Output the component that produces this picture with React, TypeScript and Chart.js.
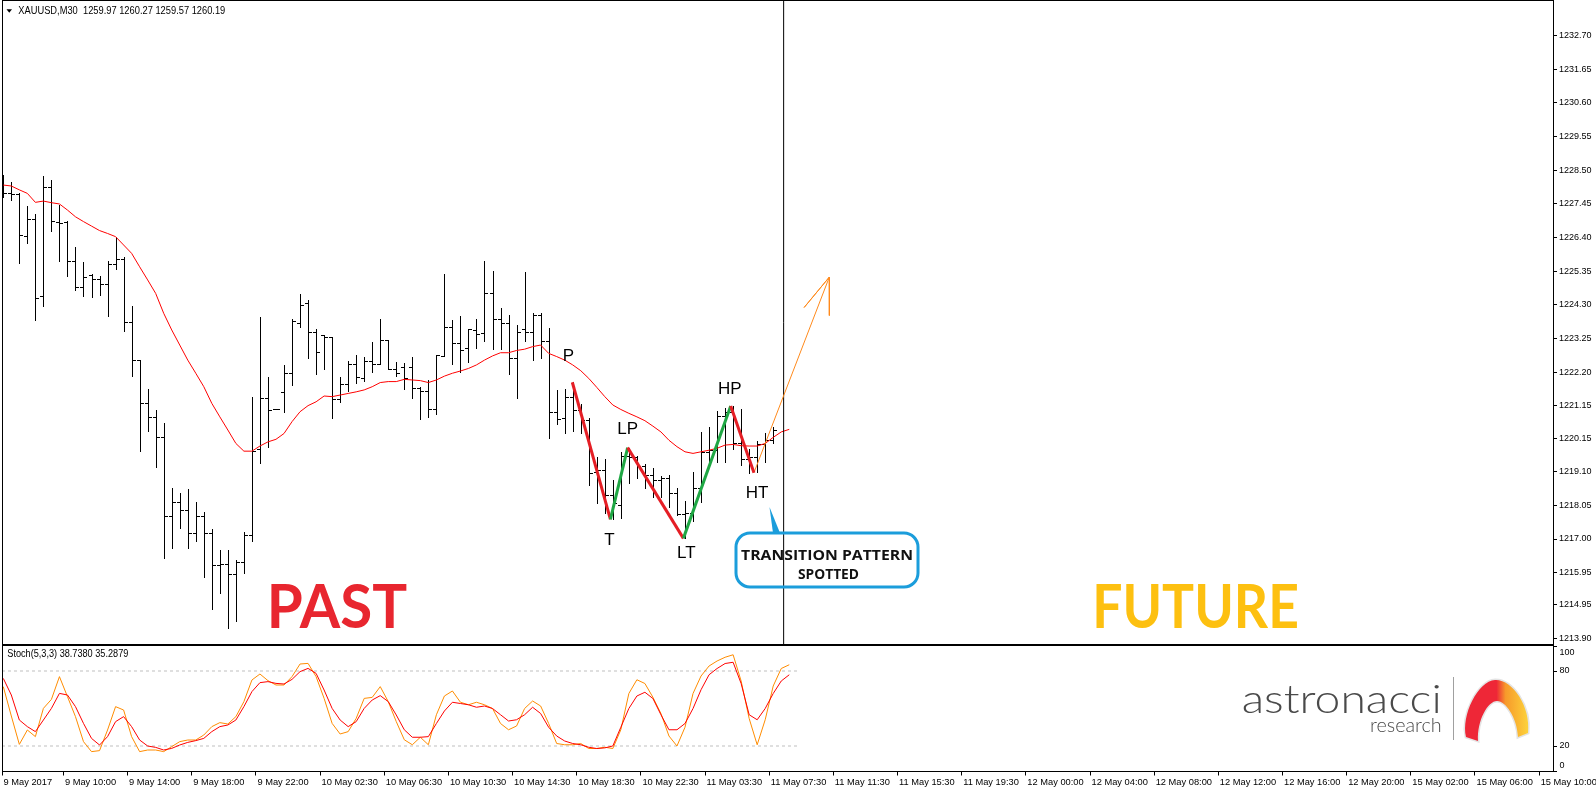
import { useEffect, useRef } from 'react';
import { Chart, registerables } from 'chart.js';

Chart.register(...registerables);

// ---------- DATA ----------
const timeLabels = ['9 May 2017', '9 May 10:00', '9 May 14:00', '9 May 18:00', '9 May 22:00', '10 May 02:30', '10 May 06:30', '10 May 10:30', '10 May 14:30', '10 May 18:30', '10 May 22:30', '11 May 03:30', '11 May 07:30', '11 May 11:30', '11 May 15:30', '11 May 19:30', '12 May 00:00', '12 May 04:00', '12 May 08:00', '12 May 12:00', '12 May 16:00', '12 May 20:00', '15 May 02:00', '15 May 06:00', '15 May 10:00'];

const priceTicks = [1232.70, 1231.65, 1230.60, 1229.55, 1228.50, 1227.45, 1226.40, 1225.35, 1224.30, 1223.25, 1222.20, 1221.15, 1220.15, 1219.10, 1218.05, 1217.00, 1215.95, 1214.95, 1213.90];
const stochTicks = [0, 20, 80, 100];
const stochLevels = [20, 80];

const opens = [1228.04, 1227.80, 1227.75, 1226.44, 1226.97, 1224.58, 1227.97, 1226.88, 1226.90, 1225.67, 1224.85, 1225.23, 1225.11, 1224.95, 1225.57, 1225.72, 1223.76, 1222.57, 1221.23, 1220.81, 1220.19, 1217.71, 1218.16, 1217.90, 1217.18, 1217.72, 1217.18, 1216.18, 1216.21, 1215.90, 1216.27, 1217.11, 1219.81, 1221.39, 1221.04, 1221.57, 1222.18, 1223.73, 1224.35, 1223.46, 1223.37, 1223.31, 1221.36, 1221.85, 1222.46, 1222.01, 1222.55, 1222.46, 1223.21, 1222.29, 1222.35, 1222.35, 1221.72, 1221.61, 1221.04, 1222.72, 1223.60, 1223.12, 1222.95, 1223.52, 1223.41, 1224.66, 1223.86, 1223.73, 1222.63, 1223.56, 1223.47, 1224.00, 1223.18, 1220.97, 1220.77, 1221.44, 1221.02, 1220.71, 1219.10, 1219.15, 1218.37, 1218.06, 1219.60, 1219.57, 1219.27, 1219.00, 1218.85, 1218.90, 1218.42, 1217.78, 1217.80, 1218.60, 1219.70, 1219.77, 1220.85, 1220.95, 1220.00, 1219.50, 1219.55, 1219.95, 1220.10];
const highs = [1228.35, 1228.14, 1227.78, 1227.39, 1227.14, 1228.32, 1228.20, 1227.42, 1226.91, 1226.10, 1225.63, 1225.26, 1225.20, 1225.68, 1226.41, 1225.79, 1224.27, 1222.57, 1221.67, 1221.02, 1220.61, 1218.58, 1218.42, 1218.55, 1218.14, 1217.85, 1217.30, 1216.65, 1216.65, 1216.34, 1217.21, 1221.42, 1223.91, 1222.04, 1221.04, 1222.42, 1223.86, 1224.64, 1224.45, 1223.54, 1223.37, 1223.31, 1222.06, 1222.55, 1222.74, 1222.69, 1223.16, 1223.86, 1223.21, 1222.51, 1222.48, 1222.69, 1221.75, 1221.96, 1222.74, 1225.27, 1223.83, 1223.95, 1223.54, 1223.86, 1225.67, 1225.36, 1224.19, 1223.99, 1223.67, 1225.32, 1224.04, 1224.04, 1223.57, 1221.64, 1221.69, 1221.89, 1221.20, 1220.76, 1219.56, 1219.48, 1218.84, 1219.72, 1219.85, 1219.60, 1219.35, 1219.20, 1218.98, 1219.00, 1218.60, 1218.20, 1219.10, 1220.35, 1220.50, 1221.00, 1221.10, 1221.15, 1221.05, 1219.80, 1220.05, 1220.30, 1220.50];
const lows = [1227.68, 1227.57, 1225.62, 1226.22, 1223.83, 1224.28, 1226.62, 1225.68, 1225.20, 1224.76, 1224.58, 1224.56, 1224.61, 1223.96, 1225.43, 1223.50, 1222.09, 1219.75, 1220.38, 1219.25, 1216.41, 1216.73, 1217.35, 1216.71, 1216.94, 1215.82, 1214.83, 1215.32, 1214.24, 1214.45, 1215.95, 1216.94, 1219.38, 1219.88, 1221.04, 1220.97, 1221.80, 1223.62, 1222.65, 1222.14, 1222.30, 1220.78, 1221.28, 1221.62, 1221.87, 1221.93, 1222.22, 1222.46, 1222.29, 1222.07, 1221.67, 1221.40, 1220.74, 1220.82, 1220.89, 1222.72, 1222.45, 1222.22, 1222.53, 1222.97, 1223.18, 1222.92, 1222.92, 1222.14, 1221.39, 1223.18, 1222.58, 1222.64, 1220.14, 1220.59, 1220.30, 1220.37, 1220.30, 1218.68, 1218.13, 1217.82, 1217.61, 1217.65, 1218.76, 1218.90, 1218.60, 1218.30, 1218.30, 1218.00, 1217.75, 1217.02, 1217.55, 1218.15, 1219.35, 1219.40, 1219.40, 1219.80, 1219.30, 1219.07, 1219.10, 1219.40, 1220.00];
const closes = [1227.80, 1227.75, 1226.47, 1226.97, 1224.51, 1227.97, 1226.91, 1226.87, 1225.67, 1224.85, 1225.16, 1225.11, 1224.95, 1225.57, 1225.72, 1223.76, 1222.57, 1221.23, 1220.81, 1220.19, 1217.71, 1218.16, 1217.90, 1217.18, 1217.72, 1217.18, 1216.18, 1216.21, 1215.90, 1216.27, 1217.11, 1219.75, 1221.39, 1221.02, 1221.04, 1222.18, 1223.80, 1224.30, 1223.46, 1222.82, 1223.31, 1221.36, 1221.85, 1222.46, 1222.04, 1222.55, 1222.46, 1223.21, 1222.29, 1222.18, 1222.03, 1221.72, 1221.61, 1221.04, 1222.74, 1223.60, 1223.12, 1222.89, 1223.54, 1223.39, 1224.66, 1223.86, 1223.73, 1222.63, 1223.45, 1223.47, 1224.00, 1223.18, 1220.97, 1220.74, 1221.44, 1221.02, 1220.71, 1219.05, 1219.15, 1218.37, 1218.11, 1219.60, 1219.57, 1219.27, 1219.00, 1218.85, 1218.90, 1218.42, 1217.78, 1217.80, 1218.60, 1219.70, 1219.77, 1220.85, 1220.95, 1220.00, 1219.50, 1219.55, 1219.95, 1220.10, 1220.40];

const maValues = [1228.04, 1228.01, 1227.89, 1227.78, 1227.50, 1227.54, 1227.49, 1227.45, 1227.26, 1227.05, 1226.90, 1226.76, 1226.62, 1226.53, 1226.43, 1226.17, 1225.91, 1225.49, 1225.08, 1224.66, 1224.04, 1223.52, 1223.05, 1222.58, 1222.17, 1221.75, 1221.23, 1220.81, 1220.40, 1219.98, 1219.74, 1219.74, 1219.90, 1220.03, 1220.11, 1220.29, 1220.66, 1220.97, 1221.16, 1221.28, 1221.46, 1221.44, 1221.49, 1221.54, 1221.59, 1221.65, 1221.75, 1221.88, 1221.91, 1221.91, 1221.98, 1221.96, 1221.94, 1221.88, 1221.96, 1222.08, 1222.17, 1222.24, 1222.32, 1222.43, 1222.58, 1222.71, 1222.81, 1222.81, 1222.88, 1222.92, 1223.00, 1223.05, 1222.79, 1222.69, 1222.58, 1222.43, 1222.25, 1222.01, 1221.73, 1221.44, 1221.18, 1221.04, 1220.92, 1220.81, 1220.69, 1220.52, 1220.34, 1220.08, 1219.88, 1219.72, 1219.67, 1219.72, 1219.77, 1219.83, 1219.93, 1219.95, 1219.91, 1219.90, 1219.90, 1219.98, 1220.17, 1220.34, 1220.42];

const stochK = [67.5, 44, 21.3, 32.8, 27.5, 50.1, 57.3, 75.5, 59.5, 43.5, 23.5, 15.5, 16.3, 32.8, 51.5, 48.8, 27.5, 15.5, 16.8, 16.8, 15.5, 19.5, 23.5, 24.8, 24.8, 28.8, 35.5, 38.7, 37.6, 43.5, 55.5, 72.8, 77.6, 72.3, 68.8, 68.8, 75.5, 85.6, 86.1, 75.5, 58.1, 38.1, 29.6, 31.5, 42.1, 58.1, 58.9, 67.5, 55.5, 39.5, 25, 21, 27, 21, 45, 60, 64, 55, 53, 55, 53, 50, 38, 33, 36, 50, 56, 52, 38, 22, 21, 21, 22, 18, 18, 19, 18, 33, 62, 73, 70, 59, 46, 28, 20, 35, 62, 76, 84, 88, 91, 93, 72, 42, 21, 41, 68, 82, 85];
const stochD = [74.1, 60.8, 40.8, 35.5, 31.5, 40.8, 50.1, 62.1, 60.8, 51.5, 38.1, 26.1, 20.8, 27.5, 39.5, 43.5, 35.5, 24.8, 20, 18.9, 16.8, 18.1, 20.8, 22.9, 24.3, 26.1, 31.5, 35.5, 36.8, 40.8, 51.5, 63.5, 70.7, 71.5, 70.1, 69.6, 73.3, 79.5, 82.1, 78.1, 64.8, 50.1, 40.8, 35.5, 39.5, 50.1, 56.8, 60.3, 55.5, 44.8, 33, 27, 27, 27.5, 38, 48, 55, 54, 53, 51, 52, 50, 45, 40, 41, 45, 51, 46, 35, 28, 24, 22, 21, 19, 18, 18.5, 20, 35, 50, 60, 63, 58, 45, 33, 33, 38, 50, 65, 77, 82, 86, 87, 70, 45, 41, 50, 62, 72, 77];

const zigzagNames = ['P', 'T', 'LP', 'LT', 'HP', 'HT'];
const zigzagIndex = [70.95, 75.7, 77.85, 84.8, 90.7, 93.6];
const zigzagPrice = [1221.89, 1217.61, 1219.85, 1217.02, 1221.15, 1219.07];

const arrowIndex = [93.6, 103.0, 99.85, 103.0, 103.0];
const arrowPrice = [1219.07, 1225.17, 1224.22, 1225.17, 1223.97];

const dividerIndex = 97.3;

// ---------- LAYOUT CONSTANTS ----------
const W = 1596;
const H = 793;
const X_MIN = -0.162;
const X_MAX = 193.23;
const Y_MIN = 1213.71;
const Y_MAX = 1233.78;
const S_MIN = -0.4;
const S_MAX = 101.2;

const FONT = '"Liberation Sans", Arial, sans-serif';

function fitText(ctx: CanvasRenderingContext2D, text: string, x: number, y: number, width: number, font: string, color: string, baseline: CanvasTextBaseline = 'alphabetic') {
  ctx.save();
  ctx.font = font;
  ctx.fillStyle = color;
  ctx.textAlign = 'left';
  ctx.textBaseline = baseline;
  const w = ctx.measureText(text).width || 1;
  ctx.translate(x, y);
  ctx.scale(width / w, 1);
  ctx.fillText(text, 0, 0);
  ctx.restore();
}

const labelOffsets = [[-4, -26], [-1, 21], [0, -18], [3, 15], [-1, -17], [3, 21]];

const overlayPlugin = {
  id: 'mt4overlay',
  beforeDatasetsDraw(chart: any) {
    const ctx: CanvasRenderingContext2D = chart.ctx;
    const xs = chart.scales.x;
    const ys = chart.scales.y;
    ctx.save();
    ctx.beginPath();
    ctx.rect(chart.chartArea.left, ys.top, chart.chartArea.right - chart.chartArea.left, ys.bottom - ys.top);
    ctx.clip();
    ctx.fillStyle = '#000';
    for (let i = 0; i < opens.length; i++) {
      const x = Math.round(xs.getPixelForValue(i));
      const yh = Math.round(ys.getPixelForValue(highs[i]));
      const yl = Math.round(ys.getPixelForValue(lows[i]));
      const yo = Math.round(ys.getPixelForValue(opens[i]));
      const yc = Math.round(ys.getPixelForValue(closes[i]));
      ctx.fillRect(x, yh, 1, Math.max(1, yl - yh + 1));
      ctx.fillRect(x - 3, yo, 3, 1);
      ctx.fillRect(x + 1, yc, 3, 1);
    }
    ctx.restore();
  },
  afterDatasetsDraw(chart: any) {
    const ctx: CanvasRenderingContext2D = chart.ctx;
    const xs = chart.scales.x;
    const ys = chart.scales.y;
    // zigzag labels
    for (let i = 0; i < zigzagNames.length; i++) {
      const px = xs.getPixelForValue(zigzagIndex[i]) + labelOffsets[i][0];
      const py = ys.getPixelForValue(zigzagPrice[i]) + labelOffsets[i][1];
      ctx.save();
      ctx.font = '17px ' + FONT;
      ctx.fillStyle = '#000';
      ctx.textAlign = 'center';
      ctx.textBaseline = 'middle';
      ctx.fillText(zigzagNames[i], px, py);
      ctx.restore();
    }
    // callout
    ctx.save();
    ctx.strokeStyle = '#1b9ddb';
    ctx.fillStyle = '#1b9ddb';
    ctx.lineWidth = 3;
    ctx.beginPath();
    (ctx as any).roundRect(736, 533, 182, 54, 14);
    ctx.stroke();
    ctx.beginPath();
    ctx.moveTo(769.5, 507);
    ctx.lineTo(773, 533);
    ctx.lineTo(780, 533);
    ctx.closePath();
    ctx.fill();
    ctx.restore();
    fitText(ctx, 'TRANSITION PATTERN', 741, 556, 172, 'bold 14px "Open Sans", sans-serif', '#111', 'middle');
    fitText(ctx, 'SPOTTED', 798, 575, 61, 'bold 14px "Open Sans", sans-serif', '#111', 'middle');
    // PAST / FUTURE
    fitText(ctx, 'PAST', 266.7, 628, 140.5, 'bold 62px Lato, sans-serif', '#e8262f');
    fitText(ctx, 'FUTURE', 1092.2, 628, 206.7, 'bold 62px Lato, sans-serif', '#fdc010');
  },
  afterDraw(chart: any) {
    const ctx: CanvasRenderingContext2D = chart.ctx;
    const ys = chart.scales.y;
    const ys2 = chart.scales.y2;
    const ca = chart.chartArea;
    ctx.save();
    ctx.strokeStyle = '#000';
    ctx.lineWidth = 1;
    const left = Math.round(ca.left) + 0.5;
    const right = Math.round(ca.right) + 0.5;
    const mainBottom = Math.round(ys.bottom) - 1 + 0.5;
    ctx.strokeRect(left, 0.5, right - left, mainBottom - 0.5);
    const stochTop = Math.round(ys2.top) + 0.5;
    const stochBottom = Math.round(ys2.bottom) - 0.5;
    ctx.strokeRect(left, stochTop, right - left, stochBottom - stochTop);
    ctx.restore();

    // stoch axis labels
    ctx.save();
    ctx.font = '9px ' + FONT;
    ctx.fillStyle = '#000';
    ctx.textAlign = 'left';
    ctx.textBaseline = 'middle';
    for (const v of stochTicks) {
      let y = ys2.getPixelForValue(v);
      y = Math.max(y, ys2.top + 8);
      y = Math.min(y, ys2.bottom - 5.5);
      ctx.fillText(String(v), ca.right + 6.5, y);
    }
    ctx.restore();

    // header
    ctx.save();
    ctx.fillStyle = '#000';
    ctx.beginPath();
    ctx.moveTo(6.5, 9.3);
    ctx.lineTo(12, 9.3);
    ctx.lineTo(9.25, 12.7);
    ctx.closePath();
    ctx.fill();
    ctx.restore();
    fitText(ctx, 'XAUUSD,M30  1259.97 1260.27 1259.57 1260.19', 18.3, 11, 207, '10px ' + FONT, '#000', 'middle');
    fitText(ctx, 'Stoch(5,3,3) 38.7380 35.2879', 7.3, 654.3, 121, '10px ' + FONT, '#000', 'middle');

    // logo
    fitText(ctx, 'astronacci', 1241.7, 713.3, 200, '300 40px Lato, sans-serif', '#4a4a4a');
    fitText(ctx, 'research', 1370, 731.7, 71.7, '300 19px Lato, sans-serif', '#4a4a4a');
    ctx.save();
    ctx.strokeStyle = '#a0a0a0';
    ctx.lineWidth = 1;
    ctx.beginPath();
    ctx.moveTo(1453.5, 677);
    ctx.lineTo(1453.5, 740);
    ctx.stroke();
    const g = ctx.createLinearGradient(1464, 0, 1529, 0);
    g.addColorStop(0, '#ee2737');
    g.addColorStop(0.5, '#ee2737');
    g.addColorStop(0.64, '#f79a2b');
    g.addColorStop(1, '#fdd43b');
    ctx.beginPath();
    ctx.moveTo(1466, 737);
    ctx.bezierCurveTo(1461, 715, 1478, 681, 1495, 680);
    ctx.bezierCurveTo(1512, 679, 1531, 706, 1528, 733);
    ctx.lineTo(1518, 737);
    ctx.bezierCurveTo(1517, 718, 1506, 701, 1497, 701);
    ctx.bezierCurveTo(1488, 701, 1477, 720, 1478, 741);
    ctx.closePath();
    ctx.strokeStyle = '#e4e4e4';
    ctx.lineWidth = 3;
    ctx.stroke();
    ctx.fillStyle = g;
    ctx.fill();
    ctx.restore();
  },
};

export default function App() {
  const canvasRef = useRef<HTMLCanvasElement | null>(null);

  useEffect(() => {
    const canvas = canvasRef.current;
    if (!canvas) return;

    const maData = maValues.map((v, i) => ({ x: i, y: v }));
    const kData = stochK.map((v, i) => ({ x: i, y: v }));
    const dData = stochD.map((v, i) => ({ x: i, y: v }));
    const zigData = zigzagIndex.map((x, i) => ({ x, y: zigzagPrice[i] }));
    const arrowData = arrowIndex.map((x, i) => ({ x, y: arrowPrice[i] }));
    const levelEnd = maValues.length + 0.2;

    const levelSets = stochLevels.map((lv) => ({
      type: 'line' as const,
      data: [{ x: X_MIN, y: lv }, { x: levelEnd, y: lv }],
      xAxisID: 'x',
      yAxisID: 'y2',
      borderColor: '#c0c0c0',
      borderWidth: 1,
      borderDash: [3, 3],
      pointRadius: 0,
      order: 5,
    }));

    const chart = new Chart(canvas, {
      type: 'line',
      data: {
        datasets: [
          ...levelSets,
          {
            data: maData,
            xAxisID: 'x',
            yAxisID: 'y',
            borderColor: '#ff0000',
            borderWidth: 1,
            pointRadius: 0,
            order: 4,
          },
          {
            data: [{ x: dividerIndex, y: Y_MIN }, { x: dividerIndex, y: Y_MAX }],
            xAxisID: 'x',
            yAxisID: 'y',
            borderColor: '#000',
            borderWidth: 1,
            pointRadius: 0,
            order: 3,
          },
          {
            data: zigData,
            xAxisID: 'x',
            yAxisID: 'y',
            borderWidth: 3,
            borderColor: '#e51e25',
            pointRadius: 0,
            segment: {
              borderColor: (c: any) => (c.p1.parsed.y < c.p0.parsed.y ? '#e51e25' : '#1fa744'),
            },
            order: 1,
          },
          {
            data: arrowData,
            xAxisID: 'x',
            yAxisID: 'y',
            borderColor: '#ff8a1c',
            borderWidth: 1,
            pointRadius: 0,
            order: 2,
          },
          {
            data: kData,
            xAxisID: 'x',
            yAxisID: 'y2',
            borderColor: '#ff8c00',
            borderWidth: 1,
            pointRadius: 0,
            order: 2,
          },
          {
            data: dData,
            xAxisID: 'x',
            yAxisID: 'y2',
            borderColor: '#ff0000',
            borderWidth: 1,
            pointRadius: 0,
            order: 1,
          },
        ] as any,
      },
      options: {
        animation: false,
        responsive: false,
        devicePixelRatio: 1,
        events: [],
        layout: { padding: { left: 2, top: 1, right: 0, bottom: 0 }, autoPadding: false } as any,
        elements: { line: { tension: 0 }, point: { radius: 0 } },
        plugins: { legend: { display: false }, tooltip: { enabled: false } },
        scales: {
          x: {
            type: 'linear',
            position: 'bottom',
            min: X_MIN,
            max: X_MAX,
            afterBuildTicks: (scale: any) => {
              scale.ticks = timeLabels.map((_, k) => ({ value: k === 0 ? X_MIN : 8 * k - 0.5 }));
            },
            afterFit: (scale: any) => {
              scale.height = 21.5;
              scale.paddingLeft = 0;
              scale.paddingRight = 0;
            },
            ticks: {
              autoSkip: false,
              maxRotation: 0,
              minRotation: 0,
              align: 'start',
              labelOffset: 1.5,
              padding: 1,
              color: '#000',
              font: { family: FONT, size: 9.3 },
              callback: (_v: any, i: number) => timeLabels[i] ?? '',
            },
            grid: { drawOnChartArea: false, drawTicks: true, tickLength: 4, tickColor: '#000' },
            border: { display: false },
          },
          y: {
            type: 'linear',
            position: 'right',
            stack: 'panels',
            stackWeight: 643.5,
            min: Y_MIN,
            max: Y_MAX,
            afterBuildTicks: (scale: any) => {
              scale.ticks = priceTicks.map((v) => ({ value: v }));
            },
            afterFit: (scale: any) => {
              scale.width = 43;
              scale.paddingTop = 0;
              scale.paddingBottom = 0;
            },
            ticks: {
              padding: 2,
              color: '#000',
              font: { family: FONT, size: 9 },
              callback: (v: any) => Number(v).toFixed(2),
            },
            grid: { drawOnChartArea: false, drawTicks: true, tickLength: 4, tickColor: '#000' },
            border: { display: false },
          },
          y2: {
            type: 'linear',
            position: 'right',
            stack: 'panels',
            stackWeight: 127,
            min: S_MIN,
            max: S_MAX,
            afterBuildTicks: (scale: any) => {
              scale.ticks = stochTicks.map((v) => ({ value: v }));
            },
            afterFit: (scale: any) => {
              scale.width = 43;
              scale.paddingTop = 0;
              scale.paddingBottom = 0;
            },
            ticks: {
              padding: 2,
              color: 'rgba(0,0,0,0)',
              font: { family: FONT, size: 9 },
            },
            grid: { drawOnChartArea: false, drawTicks: true, tickLength: 4, tickColor: '#000' },
            border: { display: false },
          },
        } as any,
      },
      plugins: [overlayPlugin as any],
    });

    return () => {
      chart.destroy();
    };
  }, []);

  return (
    <div style={{ position: 'fixed', left: 0, top: 0, width: W, height: H, background: '#fff' }}>
      <canvas ref={canvasRef} width={W} height={H} style={{ display: 'block', width: W, height: H }} />
    </div>
  );
}
